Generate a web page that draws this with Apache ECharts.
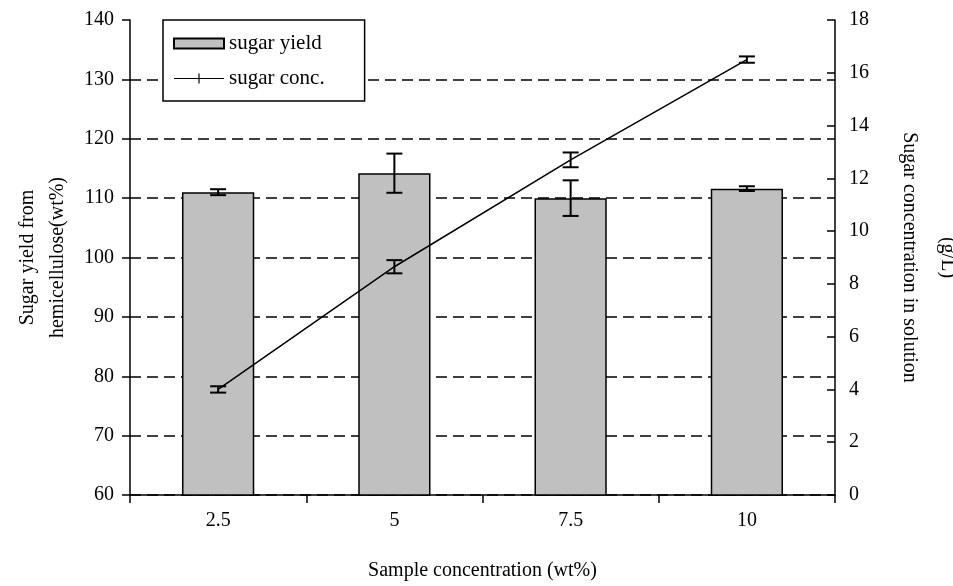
<!DOCTYPE html>
<html>
<head>
<meta charset="utf-8">
<script src="https://cdn.jsdelivr.net/npm/echarts@6/dist/echarts.min.js"></script>
<style>
  html, body { margin: 0; padding: 0; background: #fff; }
  #chart { width: 953px; height: 586px; }
</style>
</head>
<body>
<div id="chart"></div>
<script>
// data
const categories = ['2.5', '5', '7.5', '10'];
const yieldVals = [111.0, 114.2, 110.0, 111.6];   // wt%
const yieldErr = [0.5, 3.3, 3.0, 0.4];
const concVals = [4.0, 8.65, 12.7, 16.5];          // g/L
const concErr = [0.12, 0.25, 0.28, 0.12];

const font = 'Liberation Serif';

function errData(vals, errs) {
  return vals.map((v, i) => [i, v - errs[i], v + errs[i]]);
}

function errRender(params, api) {
  const x = api.value(0);
  const lo = api.coord([x, api.value(1)]);
  const hi = api.coord([x, api.value(2)]);
  const w = 8;
  const style = { stroke: '#000', lineWidth: 2 };
  return {
    type: 'group',
    children: [
      { type: 'line', shape: { x1: lo[0], y1: lo[1], x2: hi[0], y2: hi[1] }, style: style },
      { type: 'line', shape: { x1: lo[0] - w, y1: lo[1], x2: lo[0] + w, y2: lo[1] }, style: style },
      { type: 'line', shape: { x1: hi[0] - w, y1: hi[1], x2: hi[0] + w, y2: hi[1] }, style: style }
    ]
  };
}

let myChart = echarts.init(document.getElementById('chart'));
myChart.setOption({
  animation: false,
  textStyle: { fontFamily: font, color: '#000' },
  grid: { left: 130, right: 118, top: 20, bottom: 91, outerBoundsMode: 'none' },
  legend: {
    orient: 'vertical',
    left: 163,
    top: 20,
    width: 200,
    padding: [13, 40, 12, 10],
    itemGap: 14,
    itemWidth: 50,
    itemHeight: 10,
    borderColor: '#000',
    borderWidth: 1.5,
    backgroundColor: '#fff',
    textStyle: { fontFamily: font, fontSize: 21, color: '#000' },
    data: [
      { name: 'sugar yield', icon: 'rect' },
      { name: 'sugar conc.', icon: 'path://M0,4.4L50,4.4L50,5.6L0,5.6Z M24.4,0L25.6,0L25.6,10L24.4,10Z' }
    ]
  },
  xAxis: {
    type: 'category',
    data: categories,
    name: 'Sample concentration (wt%)',
    nameLocation: 'middle',
    nameGap: 66,
    nameTextStyle: { fontFamily: font, fontSize: 20, color: '#000' },
    axisLine: { lineStyle: { color: '#000', width: 1.5 } },
    axisTick: { show: true, length: 8, lineStyle: { color: '#000', width: 1.5 } },
    axisLabel: { fontFamily: font, fontSize: 20, color: '#000', margin: 16 }
  },
  yAxis: [
    {
      type: 'value',
      min: 60,
      max: 140,
      interval: 10,
      name: 'Sugar yield from\nhemicellulose(wt%)',
      nameLocation: 'middle',
      nameRotate: 90,
      nameGap: 54,
      nameTextStyle: { fontFamily: font, fontSize: 20, color: '#000', lineHeight: 30 },
      axisLine: { show: true, lineStyle: { color: '#000', width: 1.5 } },
      axisTick: { show: true, length: 8, lineStyle: { color: '#000', width: 1.5 } },
      axisLabel: { fontFamily: font, fontSize: 20, color: '#000', margin: 16 },
      splitLine: {
        show: true,
        showMaxLine: false,
        lineStyle: { color: '#000', width: 1.5, type: [11, 6] }
      }
    },
    {
      type: 'value',
      min: 0,
      max: 18,
      interval: 2,
      name: '(g/L)\nSugar concentration in solution',
      nameLocation: 'middle',
      nameRotate: -90,
      nameGap: 55,
      nameTextStyle: { fontFamily: font, fontSize: 20, color: '#000', lineHeight: 38 },
      axisLine: { show: true, lineStyle: { color: '#000', width: 1.5 } },
      axisTick: { show: true, inside: true, length: 8, lineStyle: { color: '#000', width: 1.5 } },
      axisLabel: { fontFamily: font, fontSize: 20, color: '#000', margin: 14 },
      splitLine: { show: false }
    }
  ],
  series: [
    {
      name: 'sugar yield',
      type: 'bar',
      yAxisIndex: 0,
      data: yieldVals,
      barWidth: '41%',
      itemStyle: { color: '#c0c0c0', borderColor: '#000', borderWidth: 1.5 }
    },
    {
      type: 'custom',
      yAxisIndex: 0,
      renderItem: errRender,
      data: errData(yieldVals, yieldErr),
      z: 5
    },
    {
      name: 'sugar conc.',
      type: 'line',
      yAxisIndex: 1,
      data: concVals,
      symbol: 'none',
      color: '#000',
      lineStyle: { color: '#000', width: 1.5 },
      z: 6
    },
    {
      type: 'custom',
      yAxisIndex: 1,
      renderItem: errRender,
      data: errData(concVals, concErr),
      z: 7
    }
  ]
});
</script>
</body>
</html>
